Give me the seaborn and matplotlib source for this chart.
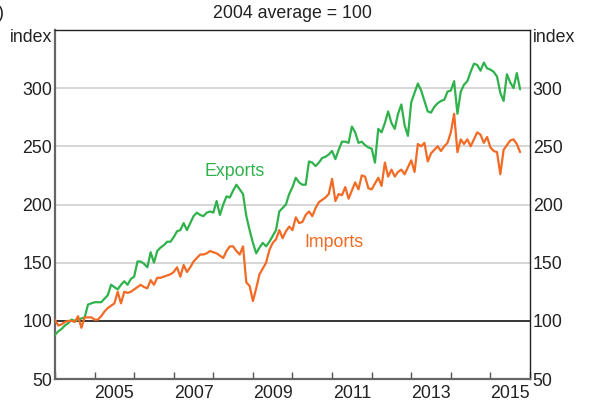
import numpy as np
import pandas as pd
import seaborn as sns
import matplotlib.pyplot as plt

# Monthly index values, Jan 2004 onwards (2004 average = 100)
exports = [88, 91, 93, 96, 98, 101, 100, 101, 102, 103, 114, 115,
           116, 116, 116, 119, 122, 131, 129, 127, 131, 134, 131, 136,
           138, 151, 151, 149, 146, 159, 150, 160, 163, 165, 168, 168,
           172, 177, 178, 184, 178, 184, 190, 193, 191, 190, 193, 194,
           193, 203, 191, 200, 207, 206, 212, 217, 213, 209, 190, 178,
           167, 158, 163, 167, 164, 168, 173, 178, 194, 197, 200, 209,
           215, 223, 219, 217, 217, 237, 236, 233, 236, 240, 241, 243,
           246, 239, 247, 254, 254, 253, 267, 262, 253, 254, 251, 249,
           248, 236, 265, 262, 270, 280, 270, 265, 278, 286, 268, 259,
           288, 296, 304, 298, 289, 280, 279, 284, 287, 289, 290, 297,
           298, 306, 278, 297, 303, 306, 314, 321, 320, 315, 322, 317,
           316, 314, 310, 296, 289, 312, 305, 300, 313, 299]
imports = [101, 96, 97, 99, 100, 100, 99, 104, 94, 103, 103, 103,
           101, 101, 104, 108, 111, 113, 115, 125, 115, 125, 124, 125,
           127, 129, 131, 129, 128, 135, 131, 137, 137, 138, 139, 140,
           142, 146, 138, 148, 142, 146, 151, 154, 157, 157, 158, 160,
           159, 158, 156, 154, 160, 164, 164, 160, 157, 164, 133, 130,
           117, 128, 140, 145, 150, 161, 167, 170, 178, 171, 177, 181,
           178, 189, 184, 185, 191, 194, 190, 197, 202, 204, 206, 209,
           222, 203, 209, 208, 215, 205, 212, 219, 213, 225, 224, 214,
           213, 218, 223, 216, 236, 224, 230, 224, 228, 230, 226, 232,
           238, 228, 252, 250, 253, 237, 244, 247, 250, 246, 250, 253,
           262, 278, 245, 256, 252, 256, 250, 256, 262, 260, 253, 258,
           249, 246, 245, 226, 247, 251, 255, 256, 252, 245]

labeled_years = [2005, 2007, 2009, 2011, 2013, 2015]
y_ticks = [50, 100, 150, 200, 250, 300]

green = '#2fb24c'
orange = '#f26a24'
fs = 12.8

dates = 2004 + np.arange(len(exports)) / 12
df = pd.DataFrame({'date': np.concatenate([dates, dates]),
                   'value': exports + imports,
                   'series': ['Exports'] * len(exports) + ['Imports'] * len(imports)})

sns.set_style('white')
plt.rcParams['font.family'] = ['Liberation Sans', 'DejaVu Sans']

fig = plt.figure(figsize=(5.9, 4.09), dpi=100)
ax = fig.add_axes([55 / 590, 1 - 379 / 409, 475 / 590, 349 / 409])

for y in [150, 200, 250, 300]:
    ax.axhline(y, color='#d0d0d0', lw=1.2, zorder=0)
ax.axhline(100, color='black', lw=1.1, zorder=1)

sns.lineplot(data=df, x='date', y='value', hue='series',
             palette={'Exports': green, 'Imports': orange},
             lw=1.6, legend=False, ax=ax, zorder=3)

ax.set_xlim(2004, 2016)
ax.set_ylim(50, 350)
ax.set_xlabel('')
ax.set_ylabel('')

# year tick marks inside, labels centred mid-year
ax.set_xticks(range(2004, 2017))
ax.set_xticklabels([])
ax.set_xticks([y + 0.5 for y in labeled_years], minor=True)
ax.set_xticklabels([str(y) for y in labeled_years], minor=True)
ax.tick_params(axis='x', which='major', direction='in', length=5, width=1, color='#555555', bottom=True)
ax.tick_params(axis='x', which='minor', length=0, pad=4, labelsize=fs, colors='#222222')

ax.set_yticks(y_ticks)
ax.tick_params(axis='y', length=0, pad=2, labelsize=fs, labelleft=True, labelright=True, colors='#222222')

for side in ['left', 'bottom']:
    ax.spines[side].set_color('#666666')
    ax.spines[side].set_linewidth(1.6)
for side in ['top', 'right']:
    ax.spines[side].set_color('#222222')
    ax.spines[side].set_linewidth(1.0)

ax.text(2008.55, 228, 'Exports', color=green, fontsize=fs, ha='center', va='center')
ax.text(2011.05, 167, 'Imports', color=orange, fontsize=fs, ha='center', va='center')

fig.text(0.5 * (55 + 530) / 590, 1 - 13 / 409, '2004 average = 100', ha='center', va='center', fontsize=fs, color='#222222')
fig.text(52 / 590, 1 - 38 / 409, 'index', ha='right', va='center', fontsize=fs, color='#222222')
fig.text(533 / 590, 1 - 38 / 409, 'index', ha='left', va='center', fontsize=fs, color='#222222')
fig.text(-2 / 590, 1 - 13 / 409, ')', ha='left', va='center', fontsize=fs, color='#222222')

fig.savefig('out.png', dpi=100)
